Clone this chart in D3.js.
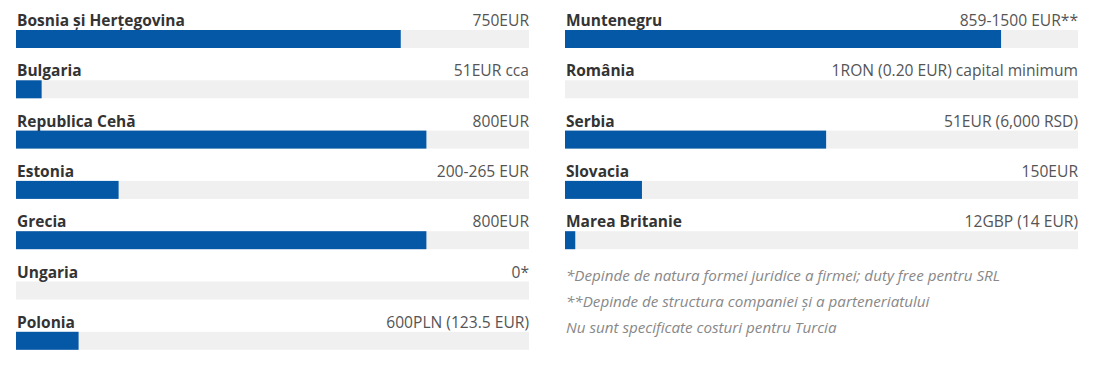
<!DOCTYPE html>
<html><head><meta charset="utf-8">
<script src="https://cdn.jsdelivr.net/npm/d3@7"></script>
<style>
body{margin:0;background:#fff;}
svg{display:block;font-family:"Open Sans",sans-serif;}
</style></head>
<body><svg id="c" width="1102" height="368"></svg>
<script>
const leftCountries = ["Bosnia și Herțegovina","Bulgaria","Republica Cehă","Estonia","Grecia","Ungaria","Polonia"];
const leftValues = [750, 50, 800, 200, 800, 0, 122];
const leftLabels = ["750EUR","51EUR cca","800EUR","200-265 EUR","800EUR","0*","600PLN (123.5 EUR)"];
const rightCountries = ["Muntenegru","România","Serbia","Slovacia","Marea Britanie"];
const rightValues = [850, 0, 509, 150, 20];
const rightLabels = ["859-1500 EUR**","1RON (0.20 EUR) capital minimum","51EUR (6,000 RSD)","150EUR","12GBP (14 EUR)"];
const notes = ["*Depinde de natura formei juridice a firmei; duty free pentru SRL","**Depinde de structura companiei și a parteneriatului","Nu sunt specificate costuri pentru Turcia"];

const svg = d3.select("#c");
const colW = 513, rowH = 50.3, barH = 18;

function column(x0, countries, values, labels){
  const x = d3.scaleLinear().domain([0,1000]).range([0,colW]);
  const y = d3.scaleBand().domain(countries).range([0, countries.length*rowH]).paddingInner(0);
  const g = svg.append("g").attr("transform",`translate(${x0},0)`);
  const rows = g.selectAll("g.row").data(countries).join("g")
    .attr("transform", d=>`translate(0,${y(d)})`);
  rows.append("rect").attr("x",0).attr("y",30).attr("width",x(1000)).attr("height",barH).attr("fill","#f0f0f0");
  rows.append("rect").attr("x",0).attr("y",30).attr("width",(d,i)=>x(values[i])).attr("height",barH).attr("fill","#0558a6");
  rows.append("text").attr("x",1).attr("y",26).attr("font-size","15.5px").attr("font-weight","bold").attr("fill","#333").text(d=>d);
  rows.append("text").attr("x",colW).attr("y",26).attr("text-anchor","end").attr("font-size","15.6px").attr("fill","#555").text((d,i)=>labels[i]);
  return {x,y};
}
column(16, leftCountries, leftValues, leftLabels);
column(565, rightCountries, rightValues, rightLabels);

svg.append("g").selectAll("text").data(notes).join("text")
  .attr("x",566).attr("y",(d,i)=>281+i*26)
  .attr("font-size","15.2px").attr("font-style","italic").attr("fill","#888").text(d=>d);
</script></body></html>
